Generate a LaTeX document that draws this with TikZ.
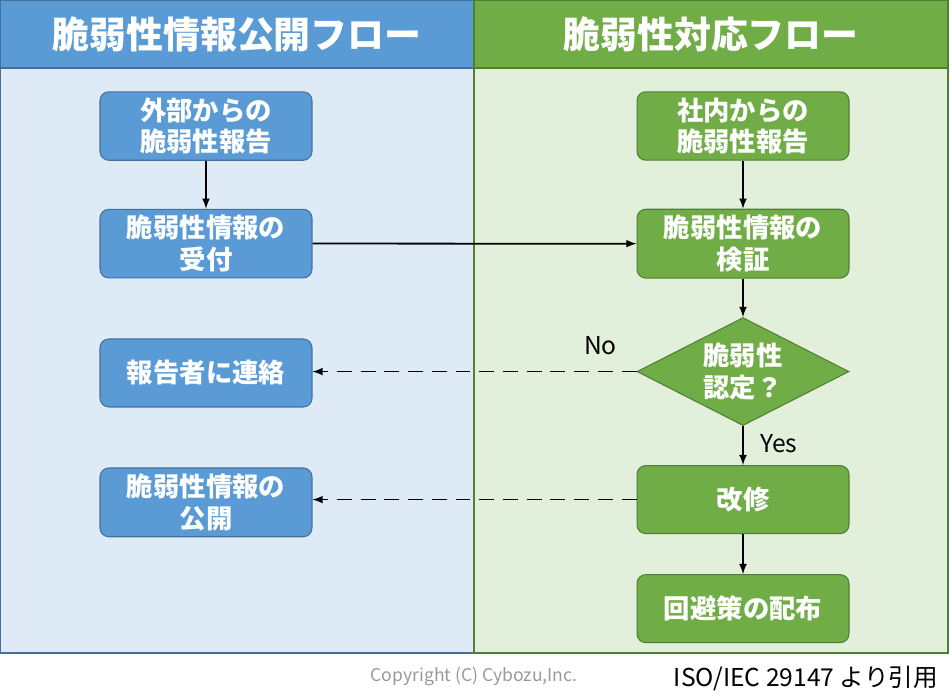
\documentclass[tikz,border=0pt]{standalone}
\usepackage{fontspec}
\setmainfont{Noto Sans CJK JP}
\usetikzlibrary{positioning,shapes.geometric}

\definecolor{pubhead}{HTML}{5B9BD5}
\definecolor{pubbody}{HTML}{DEEBF7}
\definecolor{publine}{HTML}{41719C}
\definecolor{fixhead}{HTML}{70AD47}
\definecolor{fixbody}{HTML}{E2EFDA}
\definecolor{fixline}{HTML}{507E32}
\definecolor{copygray}{HTML}{999999}

\begin{document}
\begin{tikzpicture}[
  x=0.02cm, y=-0.02cm,
  node distance = 0.96cm,
  block/.style = {
    rectangle, rounded corners=5pt, line width=0.6pt,
    minimum width=4.24cm, minimum height=1.36cm,
    align=center, text=white,
    font=\fontsize{15}{18}\selectfont\bfseries
  },
  pubblock/.style = {block, draw=publine, fill=pubhead},
  fixblock/.style = {block, draw=fixline, fill=fixhead},
  decide/.style = {
    diamond, aspect=2, inner sep=0pt, line width=0.6pt,
    draw=fixline, fill=fixhead, text=white,
    minimum width=4.24cm, minimum height=2.16cm,
    align=center, font=\fontsize{15}{18}\selectfont\bfseries
  },
  heading/.style = {text=white, font=\fontsize{21}{24}\selectfont\bfseries},
  flow/.style = {-latex, line width=1pt},
  back/.style = {-latex, line width=1pt, dash pattern=on 8.5pt off 5pt}
]
\useasboundingbox (0,0) rectangle (950,694);

% columns
\fill[pubbody] (0,68) rectangle (474,653);
\fill[fixbody] (474,68) rectangle (948,653);
\fill[pubhead] (0,0) rectangle (474,68);
\fill[fixhead] (474,0) rectangle (948,68);
\draw[publine, line width=0.6pt] (0,0) rectangle (474,653) (0,68) -- (474,68);
\draw[fixline, line width=0.6pt] (474,0) rectangle (948,653) (474,68) -- (948,68);

\node[heading] (pubtitle) at (237,34) {脆弱性情報公開フロー};
\node[heading] (fixtitle) at (711,34) {脆弱性対応フロー};

% left flow
\node[pubblock] (extreport) at (206,126) {外部からの\\脆弱性報告};
\node[pubblock, below = of extreport] (receive) {脆弱性情報の\\受付};
\node[pubblock, below = 1.2cm of receive] (contact) {報告者に連絡};
\node[pubblock, below = 1.2cm of contact] (publish) {脆弱性情報の\\公開};

% right flow
\node[fixblock] (intreport) at (743,126) {社内からの\\脆弱性報告};
\node[fixblock, below = of intreport] (verify) {脆弱性情報の\\検証};
\node[decide, below = 0.77cm of verify] (confirm) {脆弱性\\認定？};
\node[fixblock, below = 0.78cm of confirm] (repair) {改修};
\node[fixblock, below = 0.8cm of repair] (workaround) {回避策の配布};

\draw[flow] (extreport) -- (receive);
\draw[flow] (receive.east) -- (verify.west);
\draw[flow] (intreport) -- (verify);
\draw[flow] (verify) -- (confirm);
\draw[back] (confirm.west) -- (confirm.west -| contact.east);
\draw[flow] (confirm.south) -- node[pos=0.45, right=6pt, font=\fontsize{14}{16}\selectfont] (yes) {Yes} (repair.north);
\draw[back] (repair.west) -- (repair.west -| publish.east);
\draw[flow] (repair) -- (workaround);

\node[font=\fontsize{14}{16}\selectfont, above left = 0.22cm and 0.27cm of confirm.west] (no) {No};

% footer
\node[text=copygray, font=\fontsize{10}{12}\selectfont] (copyright) at (474,676) {Copyright (C) Cybozu,Inc.};
\node[font=\fontsize{14}{16}\selectfont, anchor=east] (source) at (944,678) {ISO/IEC 29147 より引用};

\end{tikzpicture}
\end{document}
